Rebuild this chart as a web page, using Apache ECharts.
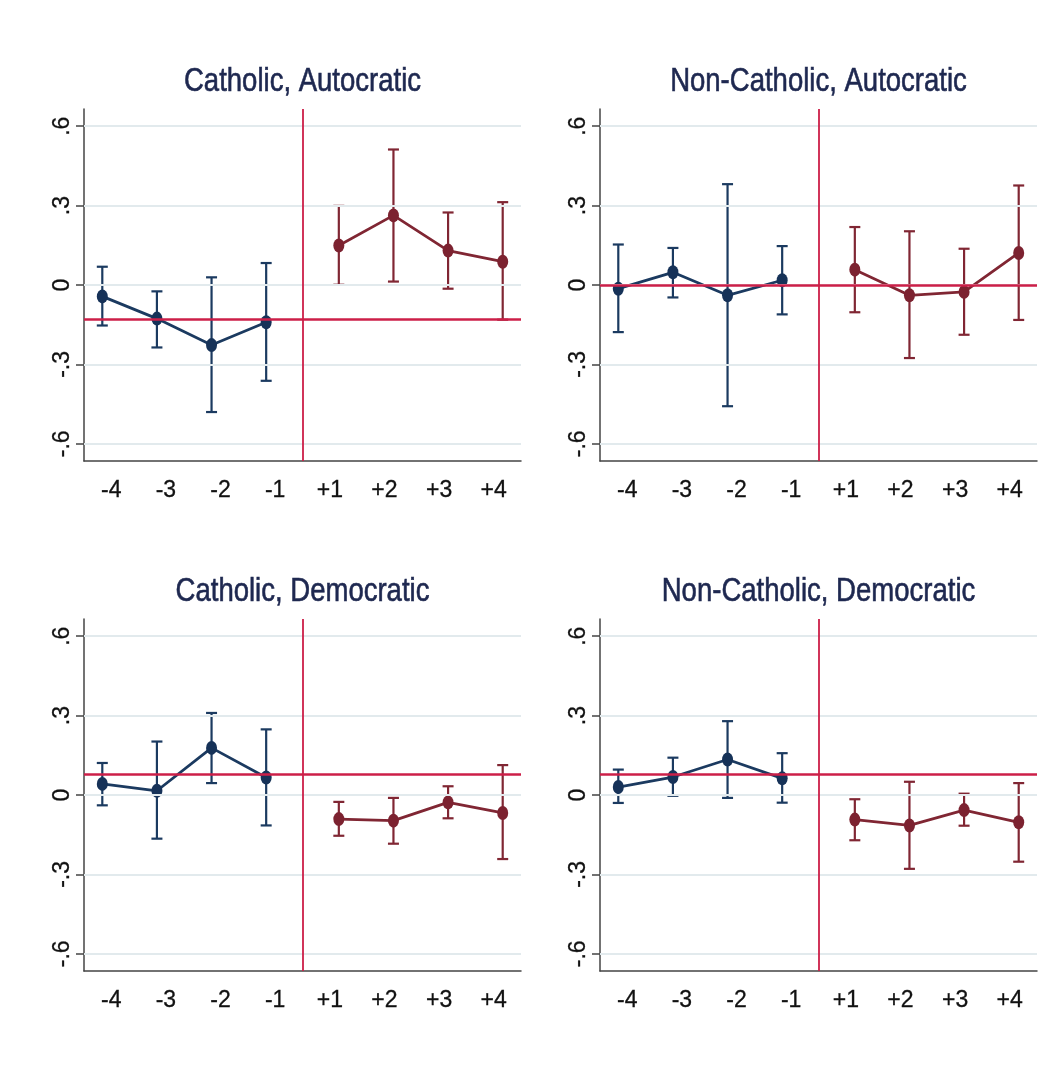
<!DOCTYPE html>
<html>
<head>
<meta charset="utf-8">
<script src="https://cdn.jsdelivr.net/npm/echarts@6/dist/echarts.min.js"></script>
<style>
  html, body { margin: 0; padding: 0; background: #fff; }
  #chart { width: 1062px; height: 1068px; }
</style>
</head>
<body>
<div id="chart"></div>
<script>
// event-time periods (x axis)
const periods = ['-4', '-3', '-2', '-1', '+1', '+2', '+3', '+4']
const panelTitles = ['Catholic, Autocratic', 'Non-Catholic, Autocratic', 'Catholic, Democratic', 'Non-Catholic, Democratic']

// point estimates, one row per panel
const pointEst = [
  [-0.043, -0.127, -0.227, -0.141, 0.149, 0.263, 0.130, 0.088],
  [-0.014, 0.048, -0.039, 0.018, 0.058, -0.039, -0.026, 0.121],
  [0.042, 0.016, 0.178, 0.066, -0.091, -0.097, -0.028, -0.068],
  [0.030, 0.068, 0.134, 0.063, -0.093, -0.115, -0.057, -0.103]
]
// confidence interval bounds
const ciLow = [
  [-0.153, -0.236, -0.480, -0.362, 0.001, 0.013, -0.014, -0.131],
  [-0.178, -0.047, -0.458, -0.111, -0.103, -0.276, -0.188, -0.132],
  [-0.039, -0.165, 0.045, -0.115, -0.154, -0.184, -0.088, -0.242],
  [-0.030, -0.003, -0.011, -0.029, -0.171, -0.279, -0.116, -0.252]
]
const ciHigh = [
  [0.069, -0.024, 0.029, 0.083, 0.299, 0.512, 0.274, 0.313],
  [0.153, 0.140, 0.381, 0.147, 0.219, 0.203, 0.137, 0.376],
  [0.121, 0.202, 0.310, 0.248, -0.026, -0.011, 0.033, 0.113],
  [0.096, 0.141, 0.279, 0.158, -0.016, 0.050, 0.005, 0.045]
]
// horizontal reference line level per panel
const refLevel = [-0.134, 0.004, 0.076, 0.076]
const yTicks = [-0.6, -0.3, 0, 0.3, 0.6]

const FONT = '"Liberation Sans", Arial, sans-serif'
const PRE = '#1b3a60'
const POST = '#802633'
const REF = '#cc1f48'
const GRIDC = '#e2eaed'
const AXISC = '#444'

const grids = [
  { left: 84, top: 109, width: 437, height: 352 },
  { left: 600, top: 109, width: 437, height: 352 },
  { left: 84, top: 619, width: 437, height: 352 },
  { left: 600, top: 619, width: 437, height: 352 }
]

const chart = echarts.init(document.getElementById('chart'))

const graphics = []
const xAxes = []
const yAxes = []
const series = []

// small shift so pre points sit left of tick, post points right
const shift = 0.165

panelTitles.forEach((t, p) => {
  const g = grids[p]
  // title as narrow text
  graphics.push({
    type: 'text',
    x: g.left + g.width / 2,
    y: g.top - 27,
    scaleX: 0.86,
    scaleY: 1.04,
    silent: true,
    style: {
      text: t,
      x: 0,
      y: 0,
      textAlign: 'center',
      textVerticalAlign: 'middle',
      font: '32px "Liberation Sans", Arial, sans-serif',
      fill: '#1e2850',
      stroke: '#1e2850',
      lineWidth: 0.6
    }
  })
  // visible category axis
  xAxes.push({
    type: 'category',
    gridIndex: p,
    data: periods,
    boundaryGap: true,
    axisLine: { onZero: false, lineStyle: { color: AXISC, width: 1.5 } },
    axisTick: { alignWithLabel: true, length: 11, lineStyle: { color: AXISC, width: 1.5 } },
    axisLabel: {
      fontFamily: FONT, fontSize: 23, color: '#111', margin: 18,
      textBorderColor: '#111', textBorderWidth: 0.3
    },
    splitLine: { show: false }
  })
  // hidden value axis used to place marks
  xAxes.push({
    type: 'value',
    gridIndex: p,
    min: -0.5,
    max: 7.5,
    show: false
  })
  yAxes.push({
    type: 'value',
    gridIndex: p,
    min: -0.665,
    max: 0.665,
    axisLine: { show: true, onZero: false, lineStyle: { color: AXISC, width: 1.5 } },
    axisTick: { show: true, length: 8, customValues: yTicks, lineStyle: { color: AXISC, width: 1.5 } },
    axisLabel: {
      customValues: yTicks,
      rotate: 90,
      fontFamily: FONT,
      fontSize: 23,
      color: '#111',
      textBorderColor: '#111',
      textBorderWidth: 0.3,
      margin: 10,
      formatter: v => {
        if (Math.abs(v) < 1e-9) return '0'
        return String(+v.toFixed(1)).replace('0.', '.')
      }
    },
    splitLine: { show: false }
  })

  const xi = p * 2 + 1
  const pre = []
  const post = []
  const bars = []
  periods.forEach((lab, i) => {
    const x = i < 4 ? i - shift : i + shift
    if (i < 4) pre.push([x, pointEst[p][i]])
    else post.push([x, pointEst[p][i]])
    bars.push([x, ciLow[p][i], ciHigh[p][i], i < 4 ? 0 : 1])
  })

  // gridlines
  series.push({
    type: 'line',
    xAxisIndex: xi,
    yAxisIndex: p,
    data: [],
    silent: true,
    z: 1,
    markLine: {
      silent: true,
      symbol: 'none',
      label: { show: false },
      animation: false,
      data: yTicks.map(v => ({ yAxis: v, lineStyle: { color: GRIDC, width: 2, type: 'solid' } }))
    }
  })
  // reference lines
  series.push({
    type: 'line',
    xAxisIndex: xi,
    yAxisIndex: p,
    data: [],
    silent: true,
    z: 2,
    markLine: {
      silent: true,
      symbol: 'none',
      label: { show: false },
      animation: false,
      data: [
        { yAxis: refLevel[p], lineStyle: { color: REF, width: 2.5, type: 'solid' } },
        { xAxis: 3.5, lineStyle: { color: REF, width: 1.8, type: 'solid' } }
      ]
    }
  })

  // error bars
  series.push({
    type: 'custom',
    xAxisIndex: xi,
    yAxisIndex: p,
    z: 3,
    data: bars,
    renderItem: (params, api) => {
      const x = api.value(0)
      const lo = api.coord([x, api.value(1)])
      const hi = api.coord([x, api.value(2)])
      const col = api.value(3) === 0 ? PRE : POST
      const cap = 5.5
      const st = { stroke: col, lineWidth: 2.2 }
      return {
        type: 'group',
        children: [
          { type: 'line', shape: { x1: lo[0], y1: lo[1], x2: hi[0], y2: hi[1] }, style: st },
          { type: 'line', shape: { x1: lo[0] - cap, y1: lo[1], x2: lo[0] + cap, y2: lo[1] }, style: st },
          { type: 'line', shape: { x1: hi[0] - cap, y1: hi[1], x2: hi[0] + cap, y2: hi[1] }, style: st }
        ]
      }
    }
  })

  series.push({
    type: 'line',
    xAxisIndex: xi,
    yAxisIndex: p,
    z: 4,
    data: pre,
    symbol: 'circle',
    symbolSize: [11, 14],
    lineStyle: { color: PRE, width: 2.8 },
    itemStyle: { color: '#163258' }
  })
  series.push({
    type: 'line',
    xAxisIndex: xi,
    yAxisIndex: p,
    z: 4,
    data: post,
    symbol: 'circle',
    symbolSize: [11, 14],
    lineStyle: { color: POST, width: 2.8 },
    itemStyle: { color: '#7c2230' }
  })
})

chart.setOption({
  backgroundColor: '#fff',
  animation: false,
  graphic: graphics,
  grid: grids,
  xAxis: xAxes,
  yAxis: yAxes,
  series: series
})
</script>
</body>
</html>
